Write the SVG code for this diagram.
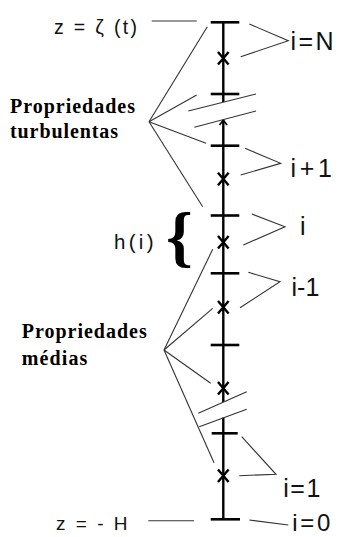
<svg xmlns="http://www.w3.org/2000/svg" width="346" height="537" viewBox="0 0 346 537">
<style>
.ax{stroke:#000;stroke-width:2.4;fill:none;stroke-linecap:butt}
.tk{stroke:#000;stroke-width:2.6;fill:none}
.xm{stroke:#000;stroke-width:2.4;fill:none}
.th{stroke:#333;stroke-width:1.1;fill:none}
.lb{font-family:"Liberation Sans",Arial,sans-serif;fill:#111}
.pr{font-family:"Liberation Serif","Times New Roman",serif;font-weight:bold;font-size:20px;fill:#000}
</style>
<rect width="346" height="537" fill="#fff"/>
<g id="axis">
<line class="ax" x1="223.3" y1="22" x2="223.3" y2="102"/>
<line class="ax" x1="223.3" y1="120" x2="223.3" y2="402"/>
<line class="ax" x1="223.3" y1="417.5" x2="223.3" y2="520"/>
<polyline class="th" points="219.5,125 223.3,120 227,125" style="stroke:#000;stroke-width:1.6"/>
</g>
<g id="ticks">
<line class="tk" x1="210.7" y1="22.3" x2="239.3" y2="22.3"/>
<line class="tk" x1="210.7" y1="94" x2="239.3" y2="94"/>
<line class="tk" x1="210.7" y1="145.7" x2="239.3" y2="145.7"/>
<line class="tk" x1="210.7" y1="215.5" x2="239.3" y2="215.5"/>
<line class="tk" x1="210.7" y1="273.3" x2="239.3" y2="273.3"/>
<line class="tk" x1="210.7" y1="345" x2="239.3" y2="345"/>
<line class="tk" x1="211.7" y1="433.3" x2="237.7" y2="433.3"/>
<line class="tk" x1="210.7" y1="519.3" x2="240" y2="519.3"/>
</g>
<g id="marks">
<path class="xm" d="M218,52 L228.6,64.6 M228.6,52 L218,64.6"/>
<path class="xm" d="M218,172.7 L228.6,185.3 M228.6,172.7 L218,185.3"/>
<path class="xm" d="M218,236 L228.6,248.6 M228.6,236 L218,248.6"/>
<path class="xm" d="M218,301 L228.6,313.6 M228.6,301 L218,313.6"/>
<path class="xm" d="M218,382 L228.6,394.6 M228.6,382 L218,394.6"/>
<path class="xm" d="M218,469.4 L228.6,482 M228.6,469.4 L218,482"/>
</g>
<g id="connectors">
<line class="th" x1="151.7" y1="21" x2="196.7" y2="21"/>
<line class="th" x1="148.3" y1="520.7" x2="194" y2="520.7"/>
<polyline class="th" points="249.3,24 288.3,40.7 240.7,56.7"/>
<polyline class="th" points="245,148.3 280.7,163.3 240.7,175"/>
<polyline class="th" points="251.7,214 285,226.7 243.3,245"/>
<polyline class="th" points="248.3,272.3 280,281.7 240,307.7"/>
<polyline class="th" points="241.7,436.7 276,474.3 239.3,475.7"/>
<line class="th" x1="249.3" y1="520" x2="288.3" y2="525"/>
<line class="th" x1="149" y1="121.7" x2="207.3" y2="26.7"/>
<line class="th" x1="149" y1="121.7" x2="196.7" y2="95"/>
<line class="th" x1="149" y1="121.7" x2="206" y2="143.3"/>
<line class="th" x1="149" y1="121.7" x2="202.7" y2="206.7"/>
<line class="th" x1="164" y1="350" x2="212.7" y2="249.3"/>
<line class="th" x1="164" y1="350" x2="212.7" y2="308.3"/>
<line class="th" x1="164" y1="350" x2="210.7" y2="383.3"/>
<line class="th" x1="164" y1="350" x2="214" y2="462.7"/>
<line class="th" x1="188.3" y1="111" x2="256" y2="94"/>
<line class="th" x1="194.3" y1="127.3" x2="256" y2="111"/>
<line class="th" x1="198.3" y1="413.3" x2="246.7" y2="391.7"/>
<line class="th" x1="199.3" y1="426.7" x2="246.7" y2="409.3"/>
</g>
<g id="labels">
<text class="lb" x="54" y="33.5" font-size="19.5" textLength="83" lengthAdjust="spacing">z = ζ (t)</text>
<text class="lb" x="56" y="529.7" font-size="19" textLength="71.5" lengthAdjust="spacing">z = - H</text>
<text class="lb" x="114" y="249" font-size="20.5" textLength="39.5" lengthAdjust="spacing">h(i)</text>
<text x="166" y="259" font-family="Liberation Serif,serif" font-weight="bold" font-size="68" fill="#000">{</text>
<text class="lb" x="290.5" y="50" font-size="25" textLength="43" lengthAdjust="spacing">i=N</text>
<text class="lb" x="290.5" y="177" font-size="25" textLength="41.5" lengthAdjust="spacing">i+1</text>
<text class="lb" x="300" y="235" font-size="25">i</text>
<text class="lb" x="291.5" y="296" font-size="25">i-1</text>
<text class="lb" x="283.3" y="497.3" font-size="25" textLength="37" lengthAdjust="spacing">i=1</text>
<text class="lb" x="292.3" y="531" font-size="24" textLength="38" lengthAdjust="spacing">i=0</text>
</g>
<g id="turbulentas">
<text class="pr" x="10" y="112.7" textLength="125" lengthAdjust="spacing">Propriedades</text>
<text class="pr" x="10" y="137.7" textLength="108" lengthAdjust="spacing">turbulentas</text>
</g>
<g id="medias">
<text class="pr" x="21.7" y="337.7" textLength="125" lengthAdjust="spacing">Propriedades</text>
<text class="pr" x="21.7" y="365" textLength="65.6" lengthAdjust="spacing">médias</text>
</g>
</svg>
